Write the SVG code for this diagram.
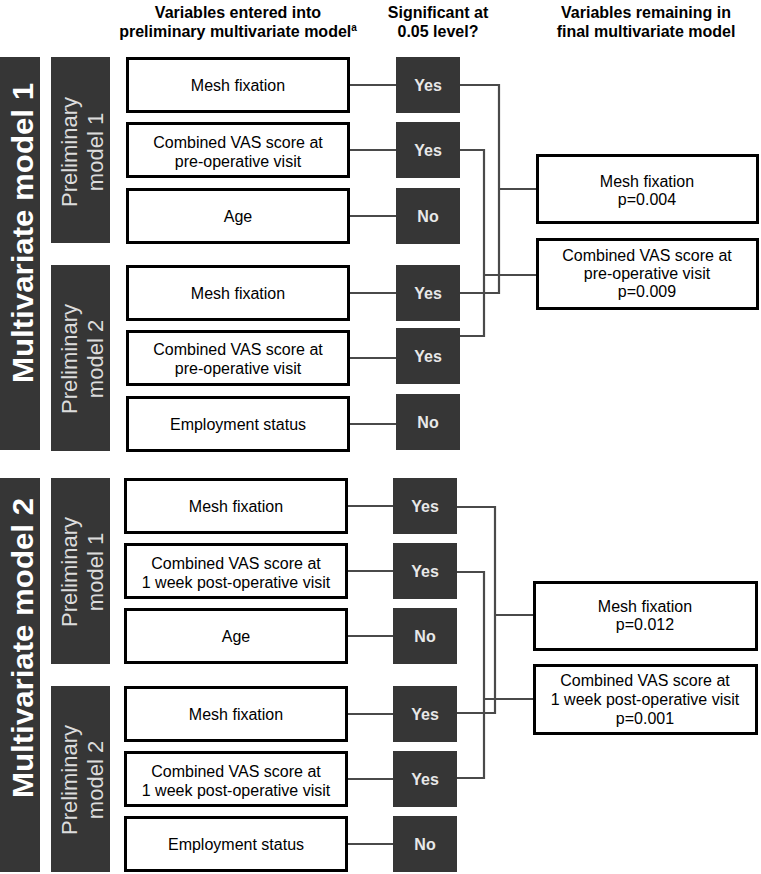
<svg xmlns="http://www.w3.org/2000/svg" width="761" height="874" viewBox="0 0 761 874">
<style>
.bg{fill:#ffffff}
.bar{fill:#363636}
.yes{fill:#363636}
.box{fill:#ffffff;stroke:#000000;stroke-width:3}
.t{font-family:"Liberation Sans",Arial,sans-serif;font-size:16px;fill:#000000;text-anchor:middle}
.hd{font-family:"Liberation Sans",Arial,sans-serif;font-size:16px;font-weight:bold;fill:#000000;text-anchor:middle}
.yt{font-family:"Liberation Sans",Arial,sans-serif;font-size:16px;font-weight:bold;fill:#e8e8e8;text-anchor:middle}
.big{font-family:"Liberation Sans",Arial,sans-serif;font-size:30px;font-weight:bold;fill:#ffffff;text-anchor:middle}
.pre{font-family:"Liberation Sans",Arial,sans-serif;font-size:22px;fill:#dcdcdc;text-anchor:middle}
.ln{fill:none;stroke:#4a4a4a;stroke-width:2.2}
</style>
<rect class="bg" x="0" y="0" width="761" height="874"/>

<g id="headers">
<text class="hd" x="238" y="18">Variables entered into</text>
<text class="hd" x="238" y="37">preliminary multivariate model<tspan font-size="10" dy="-6">a</tspan></text>
<text class="hd" x="438" y="18">Significant at</text>
<text class="hd" x="438" y="37">0.05 level?</text>
<text class="hd" x="646" y="18">Variables remaining in</text>
<text class="hd" x="646" y="37">final multivariate model</text>
</g>

<g id="connectors">
<path class="ln" d="M350,85H396M350,150H396M350,216H396M350,293H396M350,358H396M350,424H396"/>
<path class="ln" d="M460,85H499V293H460M499,189H536"/>
<path class="ln" d="M460,150H484V336H460M484,275H536"/>
<path class="ln" d="M348,506H393M348,571H393M348,636H393M348,714H393M348,779H393M348,844H393"/>
<path class="ln" d="M457,507H495V713H457M495,615H533"/>
<path class="ln" d="M457,572H484V778H457M484,699H533"/>
</g>

<g id="mv1">
<rect class="bar" x="0" y="57" width="40" height="393"/>
<text class="big" transform="translate(33,233) rotate(-90)" textLength="300" lengthAdjust="spacingAndGlyphs">Multivariate model 1</text>
</g>
<g id="mv1-pre1">
<rect class="bar" x="51" y="57" width="59" height="186"/>
<text class="pre" transform="translate(77,152) rotate(-90)">Preliminary</text>
<text class="pre" transform="translate(103,152) rotate(-90)">model 1</text>
</g>
<g id="mv1-pre2">
<rect class="bar" x="51" y="265" width="59" height="186"/>
<text class="pre" transform="translate(77,359) rotate(-90)">Preliminary</text>
<text class="pre" transform="translate(103,359) rotate(-90)">model 2</text>
</g>

<g id="v1"><rect class="box" x="127.5" y="58.5" width="221" height="53"/><text class="t" x="238" y="91">Mesh fixation</text></g>
<g id="v2"><rect class="box" x="127.5" y="123.5" width="221" height="53"/><text class="t" x="238" y="148">Combined VAS score at</text><text class="t" x="238" y="167">pre-operative visit</text></g>
<g id="v3"><rect class="box" x="127.5" y="189.5" width="221" height="53"/><text class="t" x="238" y="222">Age</text></g>
<g id="v4"><rect class="box" x="127.5" y="266.5" width="221" height="53"/><text class="t" x="238" y="299">Mesh fixation</text></g>
<g id="v5"><rect class="box" x="127.5" y="331.5" width="221" height="53"/><text class="t" x="238" y="355">Combined VAS score at</text><text class="t" x="238" y="374">pre-operative visit</text></g>
<g id="v6"><rect class="box" x="127.5" y="397.5" width="221" height="53"/><text class="t" x="238" y="430">Employment status</text></g>

<g id="y1"><rect class="yes" x="396" y="57" width="64" height="56"/><text class="yt" x="428" y="91">Yes</text></g>
<g id="y2"><rect class="yes" x="396" y="122" width="64" height="56"/><text class="yt" x="428" y="156">Yes</text></g>
<g id="y3"><rect class="yes" x="396" y="188" width="64" height="56"/><text class="yt" x="428" y="222">No</text></g>
<g id="y4"><rect class="yes" x="396" y="265" width="64" height="56"/><text class="yt" x="428" y="299">Yes</text></g>
<g id="y5"><rect class="yes" x="396" y="328" width="64" height="56"/><text class="yt" x="428" y="362">Yes</text></g>
<g id="y6"><rect class="yes" x="396" y="394" width="64" height="56"/><text class="yt" x="428" y="428">No</text></g>

<g id="f1"><rect class="box" x="537.5" y="155.5" width="220" height="67"/><text class="t" x="647" y="187">Mesh fixation</text><text class="t" x="647" y="205">p=0.004</text></g>
<g id="f2"><rect class="box" x="537.5" y="239.5" width="220" height="69"/><text class="t" x="647" y="261">Combined VAS score at</text><text class="t" x="647" y="279">pre-operative visit</text><text class="t" x="647" y="297">p=0.009</text></g>

<g id="mv2">
<rect class="bar" x="0" y="478" width="40" height="394"/>
<text class="big" transform="translate(33,648) rotate(-90)" textLength="300" lengthAdjust="spacingAndGlyphs">Multivariate model 2</text>
</g>
<g id="mv2-pre1">
<rect class="bar" x="51" y="478" width="59" height="186"/>
<text class="pre" transform="translate(77,572) rotate(-90)">Preliminary</text>
<text class="pre" transform="translate(103,572) rotate(-90)">model 1</text>
</g>
<g id="mv2-pre2">
<rect class="bar" x="51" y="686" width="59" height="186"/>
<text class="pre" transform="translate(77,780) rotate(-90)">Preliminary</text>
<text class="pre" transform="translate(103,780) rotate(-90)">model 2</text>
</g>

<g id="w1"><rect class="box" x="125.5" y="479.5" width="221" height="53"/><text class="t" x="236" y="512">Mesh fixation</text></g>
<g id="w2"><rect class="box" x="125.5" y="544.5" width="221" height="53"/><text class="t" x="236" y="569">Combined VAS score at</text><text class="t" x="236" y="588">1 week post-operative visit</text></g>
<g id="w3"><rect class="box" x="125.5" y="609.5" width="221" height="53"/><text class="t" x="236" y="642">Age</text></g>
<g id="w4"><rect class="box" x="125.5" y="687.5" width="221" height="53"/><text class="t" x="236" y="720">Mesh fixation</text></g>
<g id="w5"><rect class="box" x="125.5" y="752.5" width="221" height="53"/><text class="t" x="236" y="777">Combined VAS score at</text><text class="t" x="236" y="796">1 week post-operative visit</text></g>
<g id="w6"><rect class="box" x="125.5" y="817.5" width="221" height="53"/><text class="t" x="236" y="850">Employment status</text></g>

<g id="z1"><rect class="yes" x="393" y="478" width="64" height="56"/><text class="yt" x="425" y="512">Yes</text></g>
<g id="z2"><rect class="yes" x="393" y="543" width="64" height="56"/><text class="yt" x="425" y="577">Yes</text></g>
<g id="z3"><rect class="yes" x="393" y="608" width="64" height="56"/><text class="yt" x="425" y="642">No</text></g>
<g id="z4"><rect class="yes" x="393" y="686" width="64" height="56"/><text class="yt" x="425" y="720">Yes</text></g>
<g id="z5"><rect class="yes" x="393" y="751" width="64" height="56"/><text class="yt" x="425" y="785">Yes</text></g>
<g id="z6"><rect class="yes" x="393" y="816" width="64" height="56"/><text class="yt" x="425" y="850">No</text></g>

<g id="f3"><rect class="box" x="534.5" y="582.5" width="222" height="67"/><text class="t" x="645" y="612">Mesh fixation</text><text class="t" x="645" y="630">p=0.012</text></g>
<g id="f4"><rect class="box" x="534.5" y="665.5" width="222" height="68"/><text class="t" x="645" y="686">Combined VAS score at</text><text class="t" x="645" y="705">1 week post-operative visit</text><text class="t" x="645" y="724">p=0.001</text></g>
</svg>
